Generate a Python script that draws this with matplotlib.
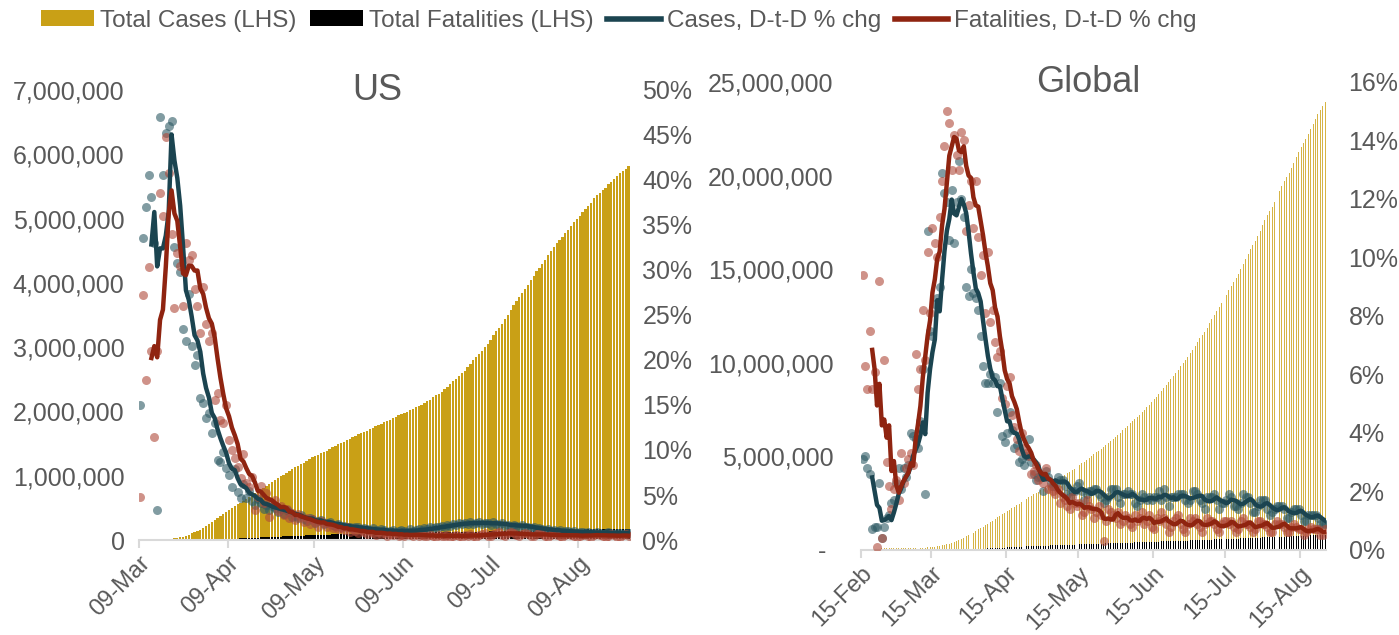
import numpy as np
import pandas as pd
import matplotlib
matplotlib.use('Agg')
import matplotlib.pyplot as plt
from matplotlib.patches import Patch
from matplotlib.lines import Line2D
from matplotlib.ticker import FuncFormatter, MultipleLocator

# ---------------- US: 09-Mar .. 26-Aug (totals in thousands, daily % chg in %) ----------------
us_start = '2020-03-09'
us_cases = [
    0.6, 0.96, 1.3, 1.7, 2.2, 2.7, 3.5, 4.6, 6.4, 7.8, 13.7, 19.1, 25.5, 33.3, 43.8,
    53.7, 65.8, 83.8, 101.7, 121.5, 140.9, 161.8, 188.2,
    213.2, 243.6, 275.4, 308.9, 337.1, 366.7, 397.1, 429.1, 462.8, 496.9,
    526.9, 555.3, 580.6, 607.7, 636.4, 667.8, 699.7, 732.2, 759.1, 784.3,
    811.9, 840.4, 869.2, 905.4, 938.2, 965.8, 988.5, 1012.6, 1039.9, 1069.4,
    1103.5, 1132.5, 1158.0, 1180.6, 1204.4, 1229.3, 1257.0, 1283.9, 1309.5, 1329.3,
    1347.9, 1369.4, 1390.4, 1417.8, 1443.4, 1467.8, 1486.8, 1508.3, 1528.6, 1551.9,
    1577.1, 1601.4, 1622.6, 1643.2, 1662.4, 1681.2, 1699.9, 1721.8, 1747.1, 1770.2, 1790.1,
    1811.4, 1831.8, 1851.5, 1872.7, 1897.8, 1920.1, 1938.8, 1956.5, 1973.8, 1994.3,
    2016.0, 2041.5, 2066.8, 2086.8, 2106.9, 2131.6, 2157.1, 2185.1, 2217.4, 2249.6,
    2277.1, 2308.1, 2344.3, 2381.9, 2422.3, 2467.6, 2510.2, 2549.3, 2590.6, 2636.5,
    2687.6, 2742.0, 2795.2, 2841.9, 2891.1, 2936.1, 2996.1, 3055.0, 3117.9, 3185.7,
    3245.9, 3304.9, 3363.1, 3431.6, 3499.3, 3576.2, 3647.7, 3711.4, 3773.3, 3834.9,
    3898.6, 3970.9, 4038.8, 4112.5, 4178.0, 4233.9, 4290.3, 4352.1, 4426.9, 4495.0, 4562.0,
    4620.4, 4667.9, 4713.5, 4771.1, 4823.9, 4883.6, 4941.8, 4998.0, 5044.9, 5094.6,
    5141.2, 5197.0, 5248.9, 5313.1, 5360.3, 5403.2, 5438.3, 5482.4, 5529.8, 5573.8,
    5622.4, 5667.1, 5701.6, 5739.5, 5777.7, 5821.9,
]
us_deaths = [
    0.02, 0.03, 0.04, 0.04, 0.05, 0.06, 0.07, 0.09, 0.11, 0.15, 0.21, 0.26, 0.32, 0.43, 0.56,
    0.78, 1.03, 1.30, 1.70, 2.2, 2.6, 3.2, 4.1,
    5.1, 6.1, 7.4, 8.5, 9.6, 10.9, 12.9, 14.8, 16.7, 18.8,
    20.6, 22.1, 23.6, 25.9, 28.3, 32.9, 35.0, 36.9, 38.9, 40.9,
    43.2, 45.4, 47.4, 49.8, 51.7, 53.0, 54.3, 56.5, 59.0, 61.2,
    63.2, 64.9, 66.1, 67.5, 69.9, 72.4, 74.8, 76.4, 77.8, 78.6,
    79.4, 81.1, 82.8, 84.6, 86.2, 87.3, 88.1, 89.0, 90.5, 92.1,
    93.4, 94.7, 95.8, 96.4, 96.9, 97.6, 99.2, 100.4, 101.6, 102.6, 103.3,
    104.1, 105.5, 106.5, 107.5, 108.4, 109.1, 109.5, 110.3, 111.3, 112.3,
    113.1, 113.9, 114.6, 114.9, 115.3, 116.2, 116.9, 117.6, 118.3, 118.9,
    119.1, 119.5, 120.4, 121.2, 123.7, 124.4, 124.9, 125.2, 125.6, 126.7,
    127.4, 128.1, 128.7, 129.0, 129.3, 129.7, 130.6, 131.6, 132.5, 133.3,
    134.1, 134.6, 135.1, 135.9, 136.9, 137.8, 138.6, 139.5, 139.9, 140.4,
    141.5, 142.7, 143.9, 145.0, 146.0, 146.5, 147.6, 148.8, 150.2, 151.5, 152.9,
    154.1, 154.6, 155.1, 156.4, 157.8, 159.1, 160.4, 161.4, 161.9, 162.4,
    163.5, 165.0, 166.0, 167.1, 168.4, 168.9, 169.4, 170.7, 172.1, 173.2,
    174.3, 175.3, 175.6, 176.1, 177.3, 178.5,
]
us_cases_chg = [
    15.0, 33.5, 37.0, 40.6, 38.1, 33.0, 3.3, 47.0, 40.6, 45.2,
    46.0, 46.5, 32.6, 30.8, 29.8, 23.4, 22.1, 27.3, 21.6, 19.4,
    20.5, 15.8, 15.2, 13.6, 14.1, 11.9, 13.0, 8.9, 8.7, 9.8,
    8.0, 7.2, 5.9, 7.9, 5.3, 4.7, 6.2, 4.7, 5.4, 4.3,
    3.9, 4.6, 4.1, 3.5, 3.9, 3.3, 3.8, 3.6, 3.1, 3.4,
    2.9, 3.3, 3.1, 2.6, 2.7, 2.4, 2.8, 2.3, 2.1, 2.4,
    2.3, 1.9, 2.1, 2.2, 1.8, 1.9, 2.0, 1.7, 1.6, 1.8,
    1.5, 1.6, 1.4, 1.5, 1.3, 1.5, 1.4, 1.2, 1.3, 1.2,
    1.1, 1.3, 1.1, 1.0, 1.2, 1.1, 0.9, 1.0, 1.1, 0.9,
    1.0, 1.1, 1.0, 0.9, 1.2, 1.0, 1.1, 1.2, 1.1, 1.3,
    1.2, 1.4, 1.3, 1.5, 1.4, 1.6, 1.5, 1.7, 1.6, 1.8,
    1.7, 1.9, 1.8, 1.9, 1.8, 2.0, 1.8, 1.9, 2.0, 1.8,
    1.9, 1.9, 1.7, 2.0, 1.8, 1.7, 1.9, 1.6, 1.7, 1.5,
    1.7, 1.6, 1.5, 1.7, 1.4, 1.5, 1.3, 1.4, 1.2, 1.3,
    1.2, 1.1, 1.2, 1.0, 1.1, 1.0, 1.1, 0.9, 1.0, 1.0,
    0.9, 1.0, 0.8, 0.9, 0.9, 0.8, 0.9, 0.8, 0.8, 0.9,
    0.8, 0.7, 0.8, 0.9, 0.8, 0.7, 0.8, 0.8, 0.7, 0.8,
    0.8,
]
us_deaths_chg = [
    4.8, 27.2, 17.8, 30.3, 21.0, 11.4, 21.0, 38.6, 36.0, 44.8,
    40.8, 34.0, 25.8, 31.9, 30.4, 26.0, 33.0, 31.1, 31.7, 27.9,
    26.0, 23.0, 28.1, 24.0, 22.1, 23.0, 15.5, 16.3, 13.3, 13.0,
    15.0, 11.1, 10.0, 9.1, 8.1, 6.9, 9.5, 6.3, 5.9, 7.0,
    3.3, 4.8, 6.0, 4.1, 5.2, 2.6, 4.1, 4.5, 3.2, 3.8,
    2.8, 3.5, 2.4, 3.0, 2.2, 2.9, 2.6, 2.0, 2.4, 1.8,
    2.3, 2.0, 1.5, 2.1, 1.9, 1.4, 1.8, 1.3, 1.6, 1.2,
    1.3, 1.1, 1.4, 0.9, 1.2, 1.0, 0.8, 1.1, 0.9, 0.7,
    1.0, 0.8, 0.6, 0.9, 0.7, 0.8, 0.5, 0.7, 0.6, 0.8,
    0.5, 0.6, 0.4, 0.7, 0.6, 0.5, 0.7, 0.4, 0.6, 0.5,
    0.4, 0.6, 0.5, 0.3, 0.6, 0.5, 0.4, 0.6, 0.3, 0.5,
    0.6, 0.4, 0.3, 0.6, 0.5, 0.7, 0.4, 0.3, 0.6, 0.7,
    0.8, 0.5, 0.4, 0.7, 0.8, 0.9, 0.6, 0.5, 0.8, 0.9,
    0.8, 0.6, 0.4, 0.7, 0.8, 0.7, 0.5, 0.4, 0.7, 0.8,
    0.7, 0.5, 0.3, 0.6, 0.8, 0.6, 0.4, 0.3, 0.6, 0.7,
    0.6, 0.4, 0.3, 0.5, 0.6, 0.7, 0.4, 0.3, 0.6, 0.7,
    0.6, 0.4, 0.3, 0.5, 0.7, 0.6, 0.3, 0.3, 0.6, 0.7,
    0.5,
]

# ---------------- Global: 15-Feb .. 25-Aug ----------------
gl_start = '2020-02-15'
gl_cases = [
    69.0, 71.2, 73.2, 75.1, 75.6, 76.2, 76.8, 78.6, 78.9, 79.5, 80.4, 81.4, 82.7, 84.1, 86.0,
    88.4, 90.3, 92.8, 95.1, 97.9, 101.8, 105.8, 109.8, 113.6, 118.6,
    125.9, 128.3, 145.2, 156.1, 167.5, 181.5, 197.1, 214.8, 242.5, 272.2,
    304.5, 336.9, 378.2, 418.0, 467.6, 529.6, 593.3, 660.7, 720.1, 782.4, 857.5,
    932.6, 1013.2, 1095.9, 1176.1, 1249.8, 1321.5, 1396.5, 1480.2, 1565.3, 1657.5,
    1735.7, 1835.1, 1905.9, 1976.2, 2056.1, 2152.4, 2240.2, 2317.7, 2401.4, 2472.3,
    2549.1, 2624.1, 2708.4, 2811.2, 2896.7, 2971.5, 3041.8, 3116.4, 3193.9, 3256.8,
    3343.8, 3427.3, 3506.7, 3583.1, 3662.7, 3755.3, 3845.7, 3938.1, 4024.1, 4101.7,
    4177.5, 4261.7, 4347.0, 4442.2, 4542.3, 4634.1, 4713.6, 4801.8, 4897.5, 4996.5,
    5102.4, 5210.8, 5310.4, 5407.6, 5495.1, 5589.6, 5691.8, 5808.9, 5930.9, 6057.9, 6166.9,
    6265.9, 6386.9, 6509.0, 6638.5, 6767.7, 6894.9, 7004.1, 7110.0, 7230.1, 7369.5,
    7502.1, 7633.2, 7767.5, 7899.8, 8040.9, 8183.0, 8349.0, 8490.2, 8669.7, 8822.0,
    8953.4, 9112.0, 9279.0, 9448.7, 9627.9, 9810.6, 9998.1, 10167.9, 10331.1, 10501.9,
    10707.5, 10918.5, 11125.4, 11318.1, 11503.9, 11669.3, 11883.6, 12098.9, 12319.8, 12552.9,
    12771.9, 12955.5, 13167.1, 13384.2, 13618.2, 13872.1, 14117.6, 14328.4, 14539.6, 14748.3,
    14983.0, 15265.6, 15547.7, 15826.0, 16082.4, 16292.3, 16508.4, 16757.4, 17045.1, 17335.0, 17630.4,
    17885.2, 18108.2, 18339.2, 18594.1, 18872.3, 19152.4, 19436.7, 19700.8, 19921.0, 20142.3,
    20406.4, 20687.4, 20971.4, 21263.9, 21518.4, 21737.0, 21948.3, 22203.9, 22478.4, 22746.5,
    23015.7, 23268.1, 23480.9, 23693.6, 23909.6,
]
gl_deaths = [
    1.67, 1.77, 1.87, 2.01, 2.12, 2.25, 2.25, 2.46, 2.47, 2.63, 2.71, 2.77, 2.81, 2.87, 2.94,
    2.99, 3.09, 3.16, 3.25, 3.35, 3.46, 3.56, 3.80, 4.01, 4.26,
    4.61, 4.91, 5.82, 5.83, 6.47, 7.14, 7.95, 8.95, 9.98, 11.4,
    13.0, 14.6, 16.5, 18.9, 22.0, 24.9, 28.3, 31.9, 35.3, 39.5, 44.2,
    49.2, 54.7, 61.0, 66.9, 71.9, 76.6, 83.6, 89.9, 96.9, 103.3,
    109.1, 114.3, 119.6, 126.3, 134.1, 141.9, 150.8, 157.1, 162.0, 167.1,
    174.0, 180.7, 187.4, 194.3, 200.2, 203.9, 207.9, 214.1, 221.0, 227.0,
    232.5, 237.8, 241.5, 245.3, 251.5, 257.7, 263.3, 268.8, 273.1, 276.8,
    280.4, 286.0, 291.6, 296.8, 302.2, 306.5, 309.6, 313.1, 318.3, 323.0,
    327.7, 333.1, 337.1, 340.3, 341.6, 346.8, 351.9, 357.2, 362.3, 366.6, 369.8,
    373.5, 378.3, 383.8, 389.0, 393.8, 397.6, 400.8, 404.4, 409.4, 414.3,
    419.3, 423.6, 428.0, 431.6, 435.3, 442.7, 447.9, 453.3, 458.7, 462.9,
    466.6, 470.2, 475.6, 480.9, 487.5, 492.6, 497.1, 500.6, 504.4, 509.7,
    514.9, 520.4, 525.3, 530.0, 534.2, 537.6, 543.4, 549.0, 554.4, 559.8,
    565.0, 569.4, 573.2, 578.3, 583.9, 589.5, 595.5, 600.6, 604.9, 608.9,
    614.9, 622.1, 628.0, 634.1, 639.4, 643.3, 647.2, 653.7, 660.1, 666.6, 672.9,
    679.1, 683.3, 687.5, 694.0, 700.6, 707.0, 713.1, 718.7, 723.5, 727.5,
    734.1, 741.2, 747.1, 753.1, 758.7, 763.1, 767.4, 773.1, 779.4, 785.2,
    791.0, 796.6, 800.8, 804.5, 810.3,
]
gl_cases_chg = [
    3.1, 3.2, 2.8, 2.6, 0.7, 0.8, 0.8, 2.3, 0.4, 0.8,
    1.1, 1.2, 1.6, 1.7, 2.3, 2.8, 2.1, 2.8, 2.5, 2.9,
    4.0, 3.9, 3.8, 3.5, 4.4, 6.2, 1.9, 10.9, 7.5, 7.3,
    8.4, 8.6, 9.0, 12.9, 12.2, 11.9, 10.6, 12.3, 10.5, 11.9,
    13.3, 12.0, 11.4, 9.0, 8.7, 9.6, 8.8, 8.6, 8.2, 7.3,
    6.3, 5.7, 5.7, 6.0, 5.7, 5.9, 4.7, 5.7, 3.9, 3.7,
    4.0, 4.7, 4.1, 3.5, 3.6, 3.0, 3.1, 2.9, 3.2, 3.8,
    3.0, 2.6, 2.4, 2.5, 2.5, 2.0, 2.7, 2.5, 2.3, 2.2,
    2.2, 2.5, 2.4, 2.4, 2.2, 1.9, 1.8, 2.0, 2.0, 2.2,
    2.3, 2.0, 1.7, 1.9, 2.0, 2.0, 2.1, 2.1, 1.9, 1.8,
    1.6, 1.7, 1.8, 2.1, 2.1, 2.1, 1.8, 1.6, 1.9, 1.9,
    2.0, 1.9, 1.9, 1.6, 1.5, 1.7, 1.9, 1.8, 1.7, 1.8,
    1.7, 1.8, 1.8, 2.0, 1.7, 2.1, 1.8, 1.5, 1.8, 1.8,
    1.8, 1.9, 1.9, 1.9, 1.7, 1.6, 1.7, 2.0, 2.0, 1.9,
    1.7, 1.6, 1.4, 1.8, 1.8, 1.8, 1.9, 1.7, 1.4, 1.6,
    1.6, 1.7, 1.9, 1.8, 1.5, 1.5, 1.4, 1.6, 1.9, 1.8,
    1.8, 1.6, 1.3, 1.3, 1.5, 1.7, 1.7, 1.7, 1.4, 1.2,
    1.3, 1.4, 1.5, 1.5, 1.5, 1.4, 1.1, 1.1, 1.3, 1.4,
    1.4, 1.4, 1.2, 1.0, 1.0, 1.2, 1.2, 1.2, 1.2, 1.1,
    0.9, 0.9, 0.9,
]
gl_deaths_chg = [
    9.4, 6.3, 5.5, 7.5, 5.5, 6.1, 0.1, 9.2, 0.4, 6.5,
    3.0, 2.2, 1.4, 2.1, 2.4, 1.7, 3.3, 2.3, 2.8, 3.1,
    3.3, 2.9, 6.7, 5.5, 6.2, 8.2, 6.5, 10.2, 8.1, 11.0,
    10.5, 10.0, 11.4, 12.6, 13.8, 15.0, 14.6, 13.0, 14.2, 13.5,
    13.0, 14.3, 14.0, 10.9, 11.8, 12.6, 11.0, 12.6, 10.7, 9.4,
    10.1, 8.1, 10.2, 7.8, 8.2, 7.1, 6.6, 6.8, 5.2, 5.0,
    5.6, 5.9, 4.6, 4.2, 3.8, 3.4, 4.0, 3.5, 3.3, 3.2,
    2.6, 2.7, 2.9, 2.4, 2.6, 2.3, 2.8, 2.1, 2.2, 2.0,
    1.9, 2.1, 1.6, 1.8, 1.7, 1.5, 1.4, 1.8, 1.6, 1.5,
    1.6, 1.2, 1.3, 1.7, 1.5, 1.4, 1.1, 1.3, 1.5, 1.2,
    0.3, 1.0, 1.4, 1.3, 1.2, 1.1, 1.3, 0.9, 1.0, 1.2,
    1.1, 0.9, 0.8, 1.2, 1.0, 1.1, 1.3, 0.9, 1.0, 1.2,
    0.8, 0.7, 1.1, 1.0, 1.3, 1.1, 0.9, 0.6, 0.8, 1.0,
    1.1, 1.2, 0.9, 0.7, 0.6, 0.9, 1.1, 1.0, 1.1, 0.9,
    0.8, 0.6, 0.9, 1.1, 1.0, 1.0, 0.9, 0.7, 0.6, 0.9,
    1.0, 1.0, 0.9, 1.0, 0.8, 0.6, 0.7, 1.0, 1.1, 0.9,
    0.9, 0.8, 0.6, 0.7, 1.0, 1.0, 0.9, 0.9, 0.8, 0.6,
    0.6, 0.9, 1.0, 0.9, 0.9, 0.8, 0.6, 0.6, 0.8, 0.9,
    0.8, 0.7, 0.7, 0.5, 0.6, 0.7, 0.8, 0.7, 0.7, 0.7,
    0.5, 0.5, 0.7,
]

GOLD = '#C9A016'
GOLD_THIN = '#D6B445'
TEAL = '#1B4450'
RED = '#8F2410'
TEAL_DOT = '#2E5A64'
RED_DOT = '#B04A3A'
GREY = '#595959'
AXIS = '#D9D9D9'
FONT = 'Liberation Sans'

plt.rcParams['font.family'] = FONT

fig = plt.figure(figsize=(13.99, 6.35), dpi=100)


def draw_panel(rect, start, cases, deaths, c_chg, d_chg, lmax, lstep, rmax, rstep,
               tick_day, bar_w, bar_color, lpad, rpad, zero_dash):
    ax = fig.add_axes(rect)
    n = len(cases)
    x = np.arange(n) + 0.5
    ax.bar(x, np.array(cases) * 1000, width=bar_w, color=bar_color, linewidth=0, zorder=1)
    ax.bar(x, np.array(deaths) * 1000, width=bar_w, color='black', linewidth=0, zorder=2)
    ax.set_xlim(0, n)
    ax.set_ylim(0, lmax)
    ax.yaxis.set_major_locator(MultipleLocator(lstep))
    if zero_dash:
        ax.yaxis.set_major_formatter(FuncFormatter(lambda v, p: '- ' if v == 0 else f'{v:,.0f}'))
    else:
        ax.yaxis.set_major_formatter(FuncFormatter(lambda v, p: f'{v:,.0f}'))

    dates = pd.date_range(start, periods=n, freq='D')
    idx = [i for i, d in enumerate(dates) if d.day == tick_day]
    ax.set_xticks(idx)
    ax.set_xticklabels([dates[i].strftime('%d-%b') for i in idx], rotation=45,
                       ha='right', va='top', rotation_mode='anchor')

    for s in ['top', 'left', 'right']:
        ax.spines[s].set_visible(False)
    ax.spines['bottom'].set_color(AXIS)
    ax.spines['bottom'].set_linewidth(1.5)
    ax.tick_params(axis='x', colors=AXIS, length=6, width=1.5, labelcolor=GREY,
                   labelsize=17, pad=3)
    ax.tick_params(axis='y', length=0, labelcolor=GREY, labelsize=18, pad=lpad)

    ax2 = ax.twinx()
    c = pd.Series(c_chg)
    d = pd.Series(d_chg)
    ax2.scatter(x, c, s=42, color=TEAL_DOT, alpha=0.6, linewidths=0, zorder=3)
    ax2.scatter(x, d, s=42, color=RED_DOT, alpha=0.6, linewidths=0, zorder=3)
    ax2.plot(x, c.rolling(5).mean(), color=TEAL, lw=3.2, zorder=4, solid_joinstyle='round')
    ax2.plot(x, d.rolling(5).mean(), color=RED, lw=3.2, zorder=5, solid_joinstyle='round')
    ax2.set_ylim(0, rmax)
    ax2.yaxis.set_major_locator(MultipleLocator(rstep))
    ax2.yaxis.set_major_formatter(FuncFormatter(lambda v, p: f'{v:.0f}%'))
    for s in ['top', 'left', 'right', 'bottom']:
        ax2.spines[s].set_visible(False)
    ax2.tick_params(axis='y', length=0, labelcolor=GREY, labelsize=18, pad=rpad)
    return ax, ax2


draw_panel([0.0990, 0.1496, 0.3513, 0.7087], us_start, us_cases, us_deaths,
           us_cases_chg, us_deaths_chg, 7_000_000, 1_000_000, 50, 5,
           9, 0.8, GOLD, 10, 9, False)
draw_panel([0.6157, 0.1339, 0.3324, 0.7370], gl_start, gl_cases, gl_deaths,
           gl_cases_chg, gl_deaths_chg, 25_000_000, 5_000_000, 16, 2,
           15, 0.4, GOLD_THIN, 20, 16, True)

fig.text(377 / 1399, 1 - 90 / 635, 'US', ha='center', va='center', fontsize=26, color=GREY)
fig.text(1088 / 1399, 1 - 82 / 635, 'Global', ha='center', va='center', fontsize=26, color=GREY)

handles = [
    Patch(facecolor=GOLD, edgecolor='none'),
    Patch(facecolor='black', edgecolor='none'),
    Line2D([0], [0], color=TEAL, lw=4),
    Line2D([0], [0], color=RED, lw=4),
]
labels = ['Total Cases (LHS)', 'Total Fatalities (LHS)', 'Cases, D-t-D % chg', 'Fatalities, D-t-D % chg']
fig.legend(handles, labels, loc='upper left', bbox_to_anchor=(0.022, 1.0), ncol=4,
           frameon=False, handlelength=2.2, handleheight=0.6, handletextpad=0.25,
           columnspacing=0.55, borderaxespad=0,
           prop={'family': FONT, 'size': 17.5}, labelcolor=GREY)

fig.savefig('out.png', dpi=100)
